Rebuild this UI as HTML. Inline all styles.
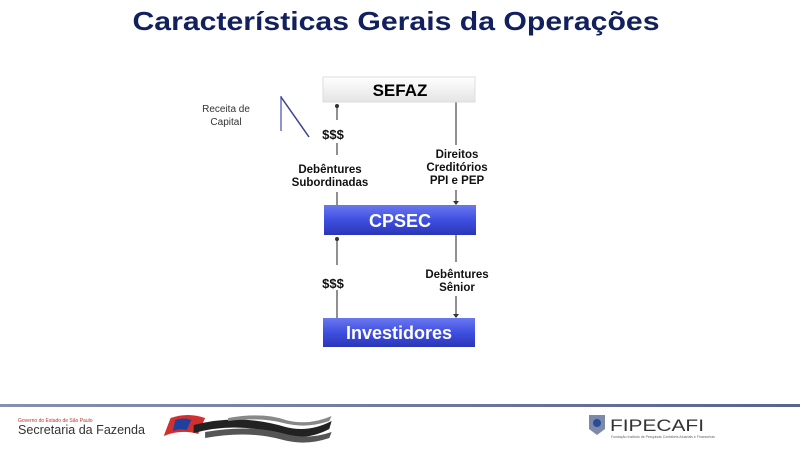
<!DOCTYPE html>
<html><head><meta charset="utf-8"><style>
body{margin:0;background:#fff}
svg{display:block}
text{font-family:"Liberation Sans",sans-serif}
</style></head><body>
<svg width="800" height="449" viewBox="0 0 800 449" xmlns="http://www.w3.org/2000/svg">
<defs>
<linearGradient id="blue" x1="0" y1="0" x2="0" y2="1">
<stop offset="0" stop-color="#6a78f0"/><stop offset="0.5" stop-color="#3f4fe0"/><stop offset="1" stop-color="#2a36b8"/>
</linearGradient>
<linearGradient id="grey" x1="0" y1="0" x2="0" y2="1">
<stop offset="0" stop-color="#ffffff"/><stop offset="1" stop-color="#e4e4e4"/>
</linearGradient>
<linearGradient id="rule" x1="0" y1="0" x2="1" y2="0">
<stop offset="0" stop-color="#8890b0"/><stop offset="1" stop-color="#5a6290"/>
</linearGradient>
</defs>
<text x="396" y="30" text-anchor="middle" font-size="26" font-weight="bold" fill="#12205e" textLength="527" lengthAdjust="spacingAndGlyphs">Características Gerais da Operações</text>

<g stroke="#555" stroke-width="1.3">
<line x1="337" y1="106" x2="337" y2="120"/>
<line x1="337" y1="143" x2="337" y2="155"/>
<line x1="337" y1="192" x2="337" y2="205"/>
<line x1="456" y1="102" x2="456" y2="145"/>
<line x1="456" y1="190" x2="456" y2="202"/>
<line x1="337" y1="240" x2="337" y2="265"/>
<line x1="337" y1="290" x2="337" y2="318"/>
<line x1="456" y1="235" x2="456" y2="262"/>
<line x1="456" y1="296" x2="456" y2="316"/>
</g>
<circle cx="337" cy="106" r="2" fill="#333"/>
<circle cx="337" cy="239" r="2" fill="#333"/>
<polygon points="453,201 459,201 456,205" fill="#333"/>
<polygon points="453,314 459,314 456,318" fill="#333"/>
<polyline points="281,96 281,131" stroke="#6870c0" stroke-width="1.5" fill="none"/>
<line x1="281" y1="97" x2="309" y2="137" stroke="#3a4290" stroke-width="1.5"/>

<rect x="323" y="77" width="152" height="25" fill="url(#grey)" stroke="#ddd"/>
<text x="400" y="96" text-anchor="middle" font-size="17" font-weight="bold" fill="#000">SEFAZ</text>
<rect x="324" y="205" width="152" height="30" fill="url(#blue)"/>
<text x="400" y="227" text-anchor="middle" font-size="18" font-weight="bold" fill="#fff">CPSEC</text>
<rect x="323" y="318" width="152" height="29" fill="url(#blue)"/>
<text x="399" y="339" text-anchor="middle" font-size="18" font-weight="bold" fill="#fff">Investidores</text>

<g font-weight="bold" fill="#111" text-anchor="middle">
<text x="333" y="139" font-size="13">$$$</text>
<text x="333" y="288" font-size="13">$$$</text>
<text x="330" y="173" font-size="11.5">Debêntures</text>
<text x="330" y="186" font-size="11.5">Subordinadas</text>
<text x="457" y="158" font-size="11.5">Direitos</text>
<text x="457" y="171" font-size="11.5">Creditórios</text>
<text x="457" y="184" font-size="11.5">PPI e PEP</text>
<text x="457" y="278" font-size="11.5">Debêntures</text>
<text x="457" y="291" font-size="11.5">Sênior</text>
</g>
<text x="226" y="112" text-anchor="middle" font-size="10" fill="#333">Receita de</text>
<text x="226" y="125" text-anchor="middle" font-size="10" fill="#333">Capital</text>

<rect x="0" y="404" width="800" height="3" fill="url(#rule)"/>
<text x="18" y="422" font-size="5" fill="#c03030">Governo do Estado de São Paulo</text>
<text x="18" y="434" font-size="12.5" fill="#333" textLength="127" lengthAdjust="spacingAndGlyphs">Secretaria da Fazenda</text>
<g transform="translate(166,0) scale(1.15,1) translate(-166,0)">
<path d="M170 418 q15 -6 30 0 l-6 16 q-15 -5 -30 2 z" fill="#d03030"/>
<path d="M174 420 q8 -3 14 0 l-4 10 q-6 -2 -12 1 z" fill="#2040a0"/>
<path d="M190 425 q40 -12 80 2 q20 6 40 -6 l-2 8 q-20 12 -40 6 q-40 -14 -78 -2 z" fill="#222"/>
<path d="M200 432 q40 -8 70 2 q20 6 40 -2 l-2 6 q-20 8 -40 2 q-30 -10 -68 -2 z" fill="#555"/>
<path d="M220 418 q30 -6 50 2 q20 6 40 -4 l-2 5 q-20 8 -40 2 q-20 -6 -48 -2 z" fill="#888"/>
</g>
<path d="M589 415 h16 v14 l-8 6 l-8 -6 z" fill="#7a8aa8"/>
<circle cx="597" cy="423" r="4" fill="#2a4a9a"/>
<text x="610" y="431" font-family="Liberation Serif" font-size="17" fill="#333" textLength="94" lengthAdjust="spacingAndGlyphs">FIPECAFI</text>
<text x="611" y="438" font-size="3.5" fill="#666">Fundação Instituto de Pesquisas Contábeis Atuariais e Financeiras</text>
</svg>
</body></html>
